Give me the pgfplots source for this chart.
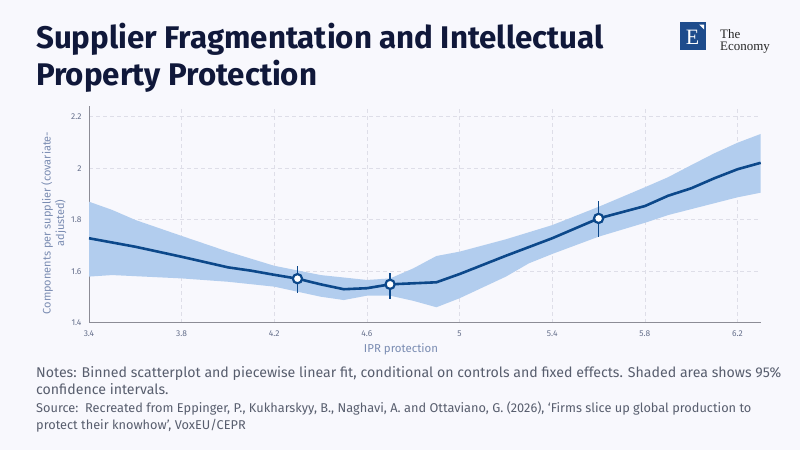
\documentclass[border=0pt]{standalone}
\usepackage{pgfplots}
\pgfplotsset{compat=1.18}
\usepackage{fontspec}
\setmainfont{Fira Sans}
\newfontfamily\titlefont{Fira Sans}[UprightFont=* Bold]
\newfontfamily\serifl{Liberation Serif}
\definecolor{bg}{RGB}{248,248,253}
\definecolor{titlec}{RGB}{16,24,58}
\definecolor{linec}{RGB}{12,72,138}
\definecolor{bandc}{RGB}{178,205,238}
\definecolor{tickc}{RGB}{102,112,140}
\definecolor{labc}{RGB}{122,140,178}
\definecolor{notec}{RGB}{88,94,110}
\definecolor{gridc}{RGB}{222,222,232}
\definecolor{axc}{RGB}{140,140,150}
\definecolor{logoc}{RGB}{30,76,140}

\pgfplotstableread{
x y
3.4 1.728
3.6 1.695
3.8 1.656
4.0 1.615
4.1 1.602
4.2 1.586
4.3 1.571
4.4 1.549
4.5 1.530
4.6 1.534
4.7 1.549
4.9 1.557
5.0 1.589
5.2 1.660
5.4 1.728
5.6 1.805
5.8 1.853
5.9 1.893
6.0 1.922
6.1 1.961
6.2 1.996
6.3 2.021
}\fitline

% 95% band: upper bound left to right, then lower bound right to left
\pgfplotstableread{
x y
3.4 1.870
3.5 1.838
3.6 1.799
3.8 1.737
4.0 1.676
4.2 1.621
4.4 1.585
4.6 1.566
4.7 1.572
4.8 1.611
4.9 1.659
5.0 1.676
5.2 1.724
5.4 1.779
5.6 1.850
5.8 1.926
5.9 1.965
6.0 2.012
6.1 2.058
6.2 2.099
6.3 2.133
6.3 1.905
6.2 1.887
6.1 1.864
5.9 1.818
5.8 1.788
5.6 1.734
5.4 1.667
5.3 1.631
5.2 1.579
5.0 1.495
4.9 1.460
4.8 1.485
4.7 1.505
4.6 1.505
4.5 1.488
4.4 1.501
4.2 1.540
4.0 1.559
3.8 1.572
3.5 1.585
3.4 1.579
}\band

\pgfplotstableread{
x y ep em
4.3 1.571 0.049 0.055
4.7 1.549 0.045 0.056
5.6 1.805 0.068 0.071
}\bins

\begin{document}
\begin{tikzpicture}
\fill[bg] (0bp,0bp) rectangle (800bp,-450bp);
% title
\tikzset{tt/.style={anchor=base west,inner sep=0,text=titlec,font=\fontsize{31.4}{36.7}\selectfont\titlefont}}
\node[tt] at (36bp,-48.3bp) {Supplier Fragmentation and Intellectual};
\node[tt] at (36bp,-85bp) {Property Protection};
% logo
\fill[logoc] (680bp,-22bp) rectangle (706bp,-50bp);
\node[text=white,inner sep=0,font=\fontsize{22}{22}\selectfont\serifl] at (692.5bp,-37bp) {E};
\fill[white] (699bp,-24.5bp) -- (704bp,-24.5bp) -- (704bp,-29.5bp) -- cycle;
\node[anchor=base west,inner sep=0,text=black!85,font=\fontsize{13}{13}\selectfont\serifl] at (720bp,-38bp) {The};
\node[anchor=base west,inner sep=0,text=black!85,font=\fontsize{13}{13}\selectfont\serifl] at (720bp,-50bp) {Economy};

\begin{axis}[
  at={(89bp,-322.7bp)}, anchor=south west,
  scale only axis, width=671.7bp, height=216.7bp,
  xmin=3.4, xmax=6.3, ymin=1.4, ymax=2.2416,
  xtick={3.4,3.8,4.2,4.6,5,5.4,5.8,6.2},
  xticklabels={3.4,3.8,4.2,4.6,5,5.4,5.8,6.2},
  ytick={1.4,1.6,1.8,2,2.2},
  yticklabels={1.4,1.6,1.8,2,2.2},
  axis x line*=bottom, axis y line*=left,
  axis line style={axc, line width=0.9bp, -},
  major tick length=0,
  grid=major,
  major grid style={gridc, dash pattern=on 4bp off 3bp, line width=0.6bp},
  tick label style={text=tickc, font=\fontsize{8.5}{10}\selectfont},
  xticklabel style={yshift=-5bp},
  yticklabel style={xshift=-4bp},
  clip=false,
]
\addplot[fill=bandc, draw=none, forget plot] table[x=x,y=y]{\band} -- cycle;
\addplot[linec, line width=2.6bp, line join=round] table[x=x,y=y]{\fitline};
\addplot[linec, line width=1.3bp, only marks, mark=o, mark size=0pt,
  error bars/.cd, y dir=both, y explicit, error mark=none,
  error bar style={linec, line width=1.3bp}]
  table[x=x,y=y,y error plus=ep,y error minus=em]{\bins};
\addplot[only marks, mark=*, mark size=4.6bp,
  mark options={fill=white, draw=linec, line width=2.2bp}]
  table[x=x,y=y]{\bins};
\end{axis}

% axis labels
\node[rotate=90,align=center,text=labc,inner sep=0,
  font=\fontsize{11}{13.5}\selectfont] at (54bp,-223bp)
  {Components per supplier (covariate-\\adjusted)};
\node[anchor=base,inner sep=0,text=labc,font=\fontsize{11.5}{13}\selectfont] at (401bp,-352bp)
  {IPR protection};

% notes
\tikzset{nt/.style={anchor=base west,inner sep=0,text=notec,font=\fontsize{14.2}{16}\selectfont},
         st/.style={anchor=base west,inner sep=0,text=notec,font=\fontsize{12.8}{15}\selectfont}}
\node[nt] at (36bp,-377.7bp) {Notes: Binned scatterplot and piecewise linear fit, conditional on controls and fixed effects. Shaded area shows 95\%};
\node[nt] at (36bp,-394bp) {confidence intervals.};
\node[st] at (36bp,-412.3bp) {Source:\ \ Recreated from Eppinger, P., Kukharskyy, B., Naghavi, A. and Ottaviano, G. (2026), ‘Firms slice up global production to};
\node[st] at (36bp,-429bp) {protect their knowhow’, VoxEU/CEPR};
\end{tikzpicture}
\end{document}
